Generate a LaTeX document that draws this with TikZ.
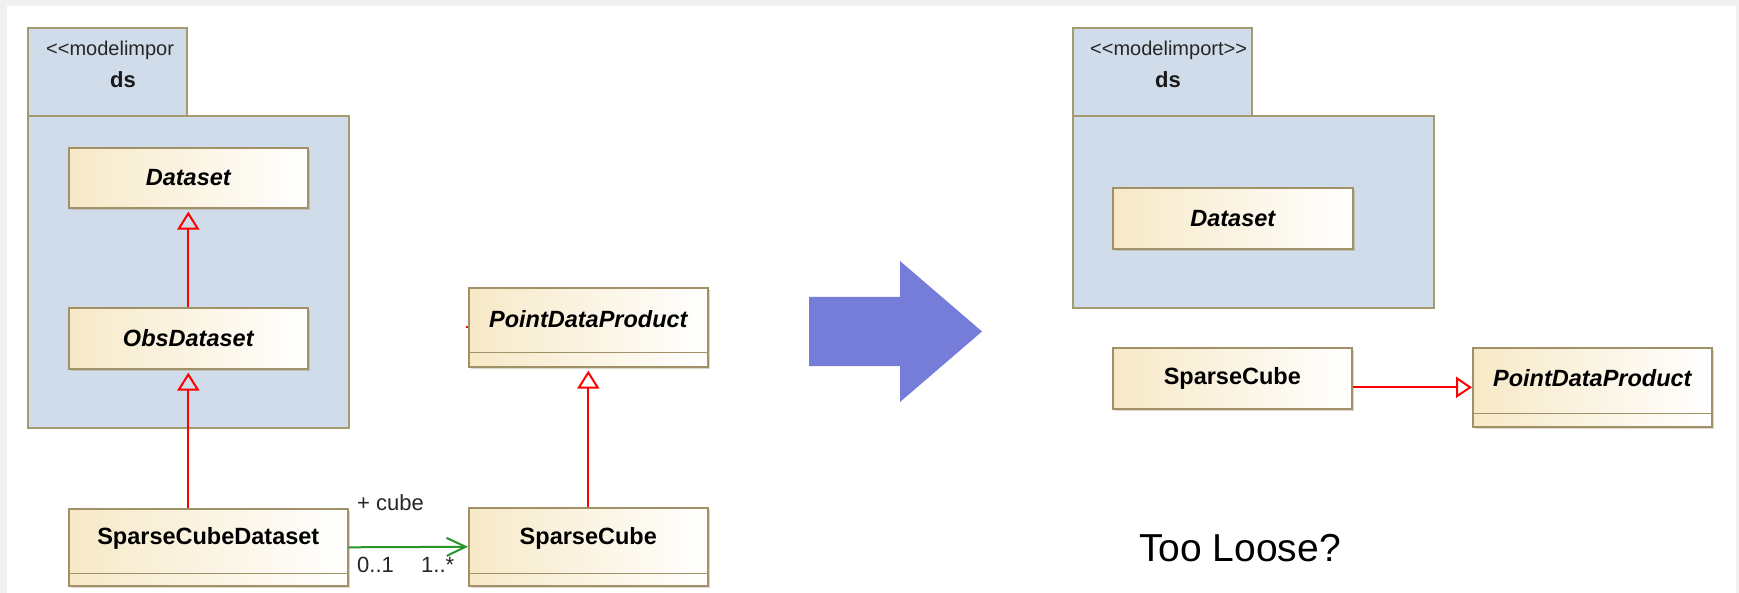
\documentclass[tikz,border=0pt]{standalone}
\usepackage{fontspec}
\setmainfont{Liberation Sans}
\usetikzlibrary{arrows.meta,shadows,calc}
\definecolor{pkgfill}{RGB}{208,220,233}
\definecolor{pkgline}{RGB}{166,154,112}
\definecolor{clsleft}{RGB}{247,233,199}
\definecolor{clsline}{RGB}{160,145,105}
\definecolor{umlred}{RGB}{255,0,0}
\definecolor{umlgreen}{RGB}{40,150,40}
\definecolor{bigarrow}{RGB}{117,125,216}
\definecolor{bgframe}{RGB}{240,240,240}
\begin{document}
\begin{tikzpicture}[x=1pt,y=-1pt,
  pkg/.style={draw=pkgline, fill=pkgfill, line width=1.6pt, rectangle, inner sep=0pt, anchor=north west},
  cls/.style={draw=clsline, line width=1.6pt, left color=clsleft, right color=white, rectangle, inner sep=0pt, anchor=north west,
    drop shadow={shadow xshift=2pt, shadow yshift=-2pt, opacity=0.35, fill=clsline}},
  divider/.style={draw=clsline, line width=1.6pt},
  clsname/.style={font=\fontsize{23.5}{28}\selectfont\bfseries, text=black, inner sep=0pt},
  clsabs/.style={font=\fontsize{23.5}{28}\selectfont\bfseries\itshape, text=black, inner sep=0pt},
  stereo/.style={font=\fontsize{20}{24}\selectfont, text=black!85, inner sep=0pt},
  pkgname/.style={font=\fontsize{22}{26}\selectfont\bfseries, text=black!90, inner sep=0pt},
  role/.style={font=\fontsize{22}{26}\selectfont, text=black!85, inner sep=0pt, anchor=west},
  gen/.style={draw=umlred, line width=2pt, -{Triangle[open, length=18pt, width=22pt]}, shorten >=3pt},
  assoc/.style={draw=umlgreen, line width=2pt, -{Straight Barb[length=19pt, width=18pt]}}
]
\useasboundingbox (0,0) rectangle (1739,593);
\fill[bgframe] (0,0) rectangle (1739,593);
\fill[white] (7,6) rectangle (1736,593);

% ---------- left package ----------
\node[pkg, minimum width=159pt, minimum height=88pt] (pkgtab) at (27,27) {};
\node[pkg, minimum width=321pt, minimum height=312pt] (pkgbody) at (27,115) {};
\node[stereo, anchor=west] (stereoL) at (46,50) {<\kern0pt<\kern0pt modelimpor};
\node[pkgname] (dsL) at (123,80) {ds};

\node[cls, minimum width=239pt, minimum height=60pt, clsabs] (dataset) at (68,147) {Dataset};
\node[cls, minimum width=239pt, minimum height=61pt, clsabs] (obs) at (68,307) {ObsDataset};

\node[cls, minimum width=279pt, minimum height=77pt] (scd) at (68,508) {};
\draw[divider] ($(scd.south west)+(0,-13)$) -- ($(scd.south east)+(0,-13)$);
\node[clsname] (scdt) at ($(scd.north)+(0,30)$) {SparseCubeDataset};

\node[cls, minimum width=239pt, minimum height=79pt] (pdp) at (468,287) {};
\draw[divider] ($(pdp.south west)+(0,-15)$) -- ($(pdp.south east)+(0,-15)$);
\node[clsabs] (pdpt) at ($(pdp.north)+(0,32)$) {PointDataProduct};
\draw[umlred, line width=2pt] (pdp.west) -- ++(-2,0);

\node[cls, minimum width=239pt, minimum height=78pt] (sc) at (468,507) {};
\draw[divider] ($(sc.south west)+(0,-13)$) -- ($(sc.south east)+(0,-13)$);
\node[clsname] (sct) at ($(sc.north)+(0,31)$) {SparseCube};

\draw[gen] (obs.north) -- (dataset.south);
\draw[gen] (scd.north -| obs.south) -- (obs.south);
\draw[gen] (sc.north) -- (pdp.south);
\draw[assoc] (scd.east) -- (sc.west);
\node[role] (rolecube) at (357,503) {+ cube};
\node[role] (multsrc) at (357,565) {0..1};
\node[role] (multdst) at (421,565) {1..*};

% ---------- big arrow ----------
\fill[bigarrow] (809,297) -- (900,297) -- (900,261) -- (982,331.5) -- (900,402) -- (900,366) -- (809,366) -- cycle;

% ---------- right package ----------
\node[pkg, minimum width=179pt, minimum height=88pt] (pkgtabR) at (1072,27) {};
\node[pkg, minimum width=361pt, minimum height=192pt] (pkgbodyR) at (1072,115) {};
\node[stereo, anchor=west] (stereoR) at (1090,50) {<\kern0pt<\kern0pt modelimport>\kern0pt>};
\node[pkgname] (dsR) at (1168,80) {ds};
\node[cls, minimum width=240pt, minimum height=61pt, clsabs] (datasetR) at (1112,187) {Dataset};

\node[cls, minimum width=239pt, minimum height=61pt, clsname] (scR) at (1112,347) {SparseCube};
\node[cls, minimum width=239pt, minimum height=79pt] (pdpR) at (1472,347) {};
\draw[divider] ($(pdpR.south west)+(0,-14)$) -- ($(pdpR.south east)+(0,-14)$);
\node[clsabs] (pdpRt) at ($(pdpR.north)+(0,31)$) {PointDataProduct};
\draw[gen, -{Triangle[open, length=16pt, width=21pt]}, shorten >=0pt] (scR.east |- pdpR.west) -- (pdpR.west);

\node[font=\fontsize{39}{45}\selectfont, inner sep=0pt] (loose) at (1240,548) {Too Loose?};
\end{tikzpicture}
\end{document}
